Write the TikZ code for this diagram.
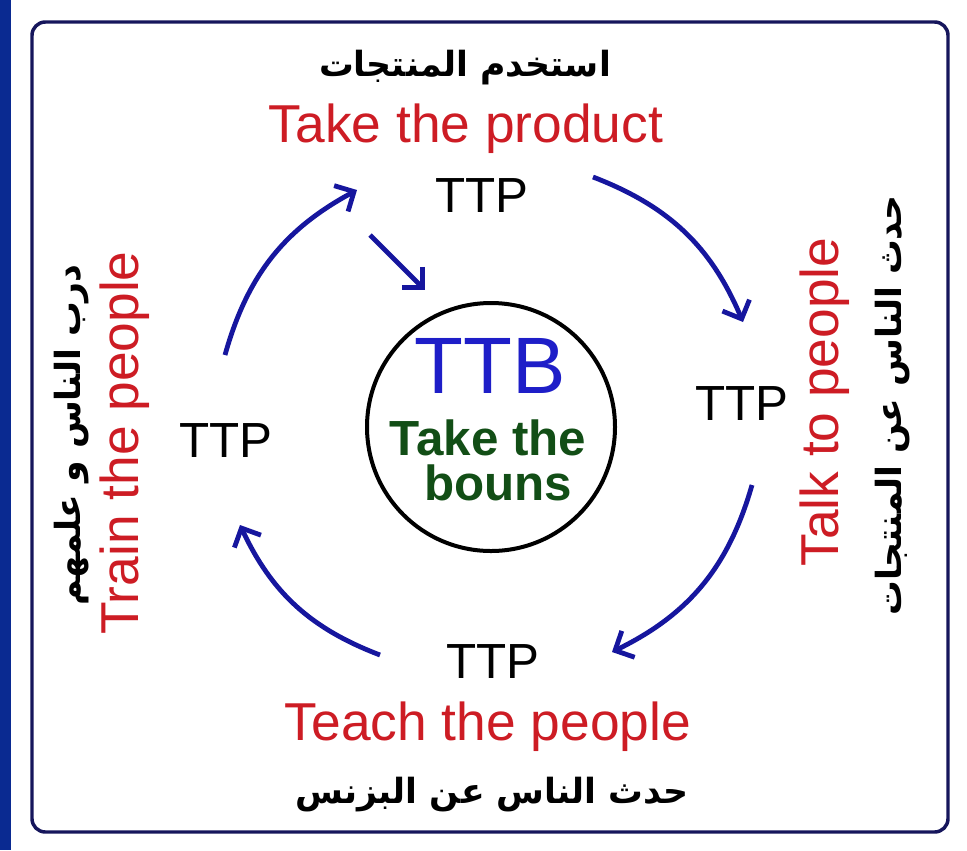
\documentclass[tikz,border=0pt]{standalone}
\usepackage{fontspec}
\setmainfont{Liberation Sans}
\newfontfamily\arabicfont[Script=Arabic]{DejaVu Sans}
\TeXXeTstate=1
\usetikzlibrary{arrows.meta}

\definecolor{framenavy}{RGB}{22,22,92}
\definecolor{stripblue}{RGB}{10,42,145}
\definecolor{labelred}{RGB}{205,28,36}
\definecolor{cycleblue}{RGB}{22,22,158}
\definecolor{ttbblue}{RGB}{30,30,200}
\definecolor{bonusgreen}{RGB}{18,78,22}

\begin{document}
\begin{tikzpicture}[x=0.75pt,y=0.75pt,yscale=-1,xscale=1,
  redlbl/.style={text=labelred,font=\fontsize{40}{42}\selectfont,inner sep=0pt,anchor=base},
  ttplbl/.style={font=\fontsize{37}{40}\selectfont,inner sep=0pt,anchor=base},
  arlbl/.style={font=\arabicfont\bfseries\fontsize{26}{30}\selectfont,inner sep=0pt},
  cyclearrow/.style={draw=cycleblue,line width=3.6pt,-{Straight Barb[length=11pt,width=22pt]}},
]
  \useasboundingbox (0,0) rectangle (967,850);
  \fill[white] (0,0) rectangle (967,850);

  %Shape: left strip
  \fill[stripblue] (0,0) rectangle (11,850);
  %Shape: frame
  \draw[framenavy,line width=2.6pt,rounded corners=10pt] (32,22) rectangle (948,832);

  %Shape: Circle
  \node[draw=black,line width=3pt,circle,minimum size=186pt,inner sep=0pt] (hub) at (491,427) {};
  % Text Node
  \node[anchor=base,inner sep=0pt,text=ttbblue,font=\fontsize{60}{62}\selectfont] (ttb) at (490,393) {TTB};
  % Text Node
  \node[anchor=base,inner sep=0pt,text=bonusgreen,font=\bfseries\fontsize{37}{40}\selectfont] (bonustop) at (488,455) {Take the};
  % Text Node
  \node[anchor=base,inner sep=0pt,text=bonusgreen,font=\bfseries\fontsize{37}{40}\selectfont] (bonusbot) at (498,500) {bouns};

  % Text Node
  \node[arlbl] (artop) at (465,68) {\beginR استخدم المنتجات\endR};
  % Text Node
  \node[redlbl] (lbltop) at (466,142) {Take the product};
  % Text Node
  \node[ttplbl] (ttptop) at (482,212) {TTP};

  % Text Node
  \node[ttplbl] (ttpright) at (742,420) {TTP};
  % Text Node
  \node[redlbl,rotate=90] (lblright) at (838,402) {Talk to people};
  % Text Node
  \node[arlbl,rotate=90] (arright) at (893,405) {\beginR حدث الناس عن المنتجات\endR};

  % Text Node
  \node[ttplbl] (ttpbot) at (493,678) {TTP};
  % Text Node
  \node[redlbl] (lblbot) at (488,740) {Teach the people};
  % Text Node
  \node[arlbl] (arbot) at (492,795) {\beginR حدث الناس عن البزنس\endR};

  % Text Node
  \node[ttplbl] (ttpleft) at (226,457) {TTP};
  % Text Node
  \node[redlbl,rotate=90] (lblleft) at (138,443) {Train the people};
  % Text Node
  \node[arlbl,rotate=90] (arleft) at (72,435) {\beginR درب الناس و علمهم\endR};

  %Straight Lines: arrow ends
  \coordinate (upfrom) at (225,355);
  \coordinate (upto) at (357,190);
  \coordinate (infrom) at (370,235);
  \coordinate (into) at (425,290);
  \coordinate (rightfrom) at (593,177);
  \coordinate (rightto) at (743,322);
  \coordinate (downfrom) at (752,485);
  \coordinate (downto) at (612,652);
  \coordinate (backfrom) at (380,655);
  \coordinate (backto) at (240,525);

  \draw[cyclearrow] (upfrom) to[bend right=23] (upto);
  \draw[cyclearrow] (infrom) -- (into);
  \draw[cyclearrow] (rightfrom) to[bend right=23] (rightto);
  \draw[cyclearrow] (downfrom) to[bend right=24] (downto);
  \draw[cyclearrow] (backfrom) to[bend right=22] (backto);

\end{tikzpicture}
\end{document}
